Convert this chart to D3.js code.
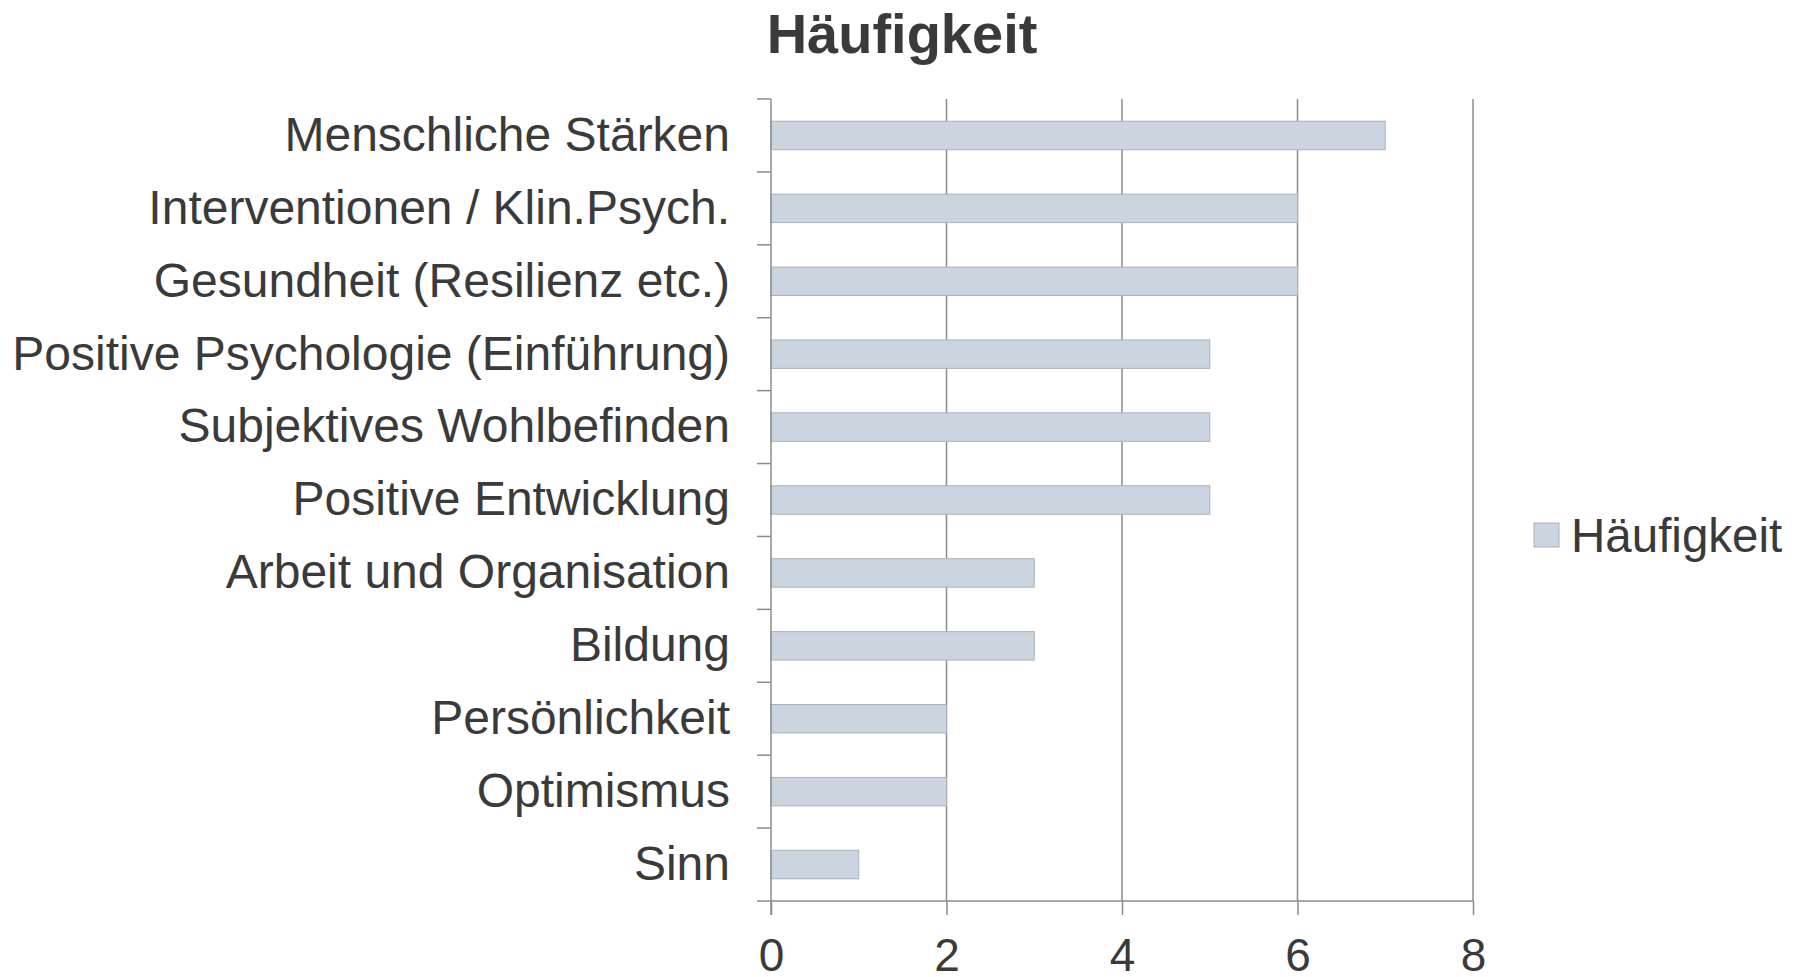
<!DOCTYPE html>
<html>
<head>
<meta charset="utf-8">
<script src="https://cdn.jsdelivr.net/npm/d3@7"></script>
<style>
  body { margin: 0; background: #fff; }
  text { font-family: "Liberation Sans", Arial, sans-serif; fill: #3a3a3a; }
</style>
</head>
<body>
<div class="chart"></div>
<script>
// Dati
var kategorien = ["Menschliche Stärken", "Interventionen / Klin.Psych.", "Gesundheit (Resilienz etc.)",
  "Positive Psychologie (Einführung)", "Subjektives Wohlbefinden", "Positive Entwicklung",
  "Arbeit und Organisation", "Bildung", "Persönlichkeit", "Optimismus", "Sinn"];
var werte = [7, 6, 6, 5, 5, 5, 3, 3, 2, 2, 1];
var xTicks = [0, 2, 4, 6, 8];
var serie = "Häufigkeit";

var w = 1803,
    h = 977;

var svg = d3.select(".chart")
  .append("svg")
  .attr("width", w)
  .attr("height", h);

var pLeft = 771, pRight = 1473, pTop = 99, pBottom = 901;

var x = d3.scaleLinear().domain([0, 8]).range([pLeft, pRight]);
var y = d3.scaleBand().domain(kategorien).range([pTop, pBottom]).paddingInner(0.61).paddingOuter(0.305);

// griglia verticale
svg.selectAll(".grid")
  .data(xTicks.slice(1))
  .enter().append("line")
  .attr("x1", d => x(d)).attr("x2", d => x(d))
  .attr("y1", pTop).attr("y2", pBottom)
  .attr("stroke", "#8c8c8c")
  .attr("stroke-width", 1.5);

// barre
svg.selectAll(".bar")
  .data(werte)
  .enter().append("rect")
  .attr("x", x(0))
  .attr("y", (d, i) => y(kategorien[i]))
  .attr("width", d => x(d) - x(0))
  .attr("height", y.bandwidth())
  .attr("fill", "#cbd5df")
  .attr("stroke", "#a9b1ba")
  .attr("stroke-width", 1);

// asse x
var xAxis = svg.append("g")
  .attr("transform", "translate(0," + pBottom + ")")
  .call(d3.axisBottom(x).tickValues(xTicks).tickSize(14).tickPadding(23).tickSizeOuter(0));
xAxis.select(".domain").attr("stroke", "#8c8c8c").attr("stroke-width", 1.5).attr("d", "M" + (pLeft - 14) + ",0H" + pRight);
xAxis.selectAll(".tick line").attr("stroke", "#8c8c8c").attr("stroke-width", 1.5);
xAxis.selectAll(".tick text").attr("font-size", 46).attr("fill", "#3a3a3a").attr("font-family", null);

// asse y
var step = (pBottom - pTop) / kategorien.length;
var yAxis = svg.append("g")
  .attr("transform", "translate(" + pLeft + ",0)")
  .call(d3.axisLeft(y).tickSize(0).tickPadding(41));
yAxis.select(".domain").attr("stroke", "#8c8c8c").attr("stroke-width", 1.5).attr("d", "M0," + pTop + "V" + (pBottom + 14));
yAxis.selectAll(".tick text").attr("font-size", 48).attr("fill", "#3a3a3a").attr("font-family", null);
yAxis.selectAll(".sep")
  .data(d3.range(kategorien.length))
  .enter().append("line")
  .attr("x1", -14).attr("x2", 0)
  .attr("y1", i => pTop + i * step).attr("y2", i => pTop + i * step)
  .attr("stroke", "#8c8c8c")
  .attr("stroke-width", 1.5);

// titolo
svg.append("text")
  .attr("x", 902).attr("y", 53)
  .attr("text-anchor", "middle")
  .attr("font-size", 56)
  .attr("font-weight", "bold")
  .text(serie);

// legenda
svg.append("rect")
  .attr("x", 1534).attr("y", 523)
  .attr("width", 25).attr("height", 24)
  .attr("fill", "#cbd5df")
  .attr("stroke", "#a9b1ba");
svg.append("text")
  .attr("x", 1571).attr("y", 552)
  .attr("font-size", 47.5)
  .text(serie);
</script>
</body>
</html>
